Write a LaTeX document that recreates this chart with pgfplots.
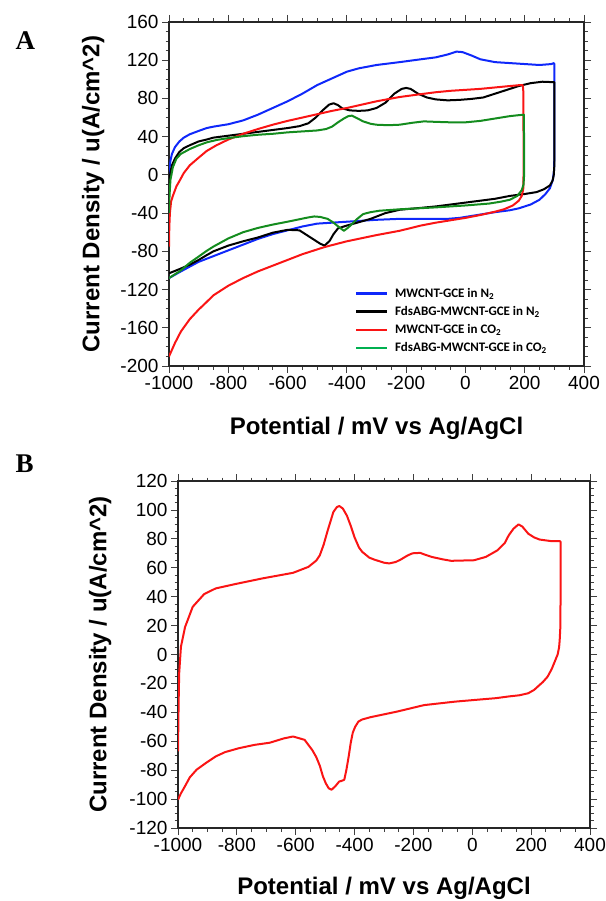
\documentclass[border=0pt]{standalone}
\usepackage{fontspec}
\setmainfont{Liberation Sans}
\newfontfamily\serif{Liberation Serif}
\newfontfamily\carlito{Carlito}
\usepackage{pgfplots}
\pgfplotsset{compat=1.18}

\definecolor{cvblue}{RGB}{15,40,250}
\definecolor{cvred}{RGB}{250,20,20}
\definecolor{cvgreen}{RGB}{20,140,30}
\definecolor{lggreen}{RGB}{0,176,80}

\pgfplotsset{
  cvax/.style={
    scale only axis,
    xmin=-1000, xmax=400, xtick distance=200,
    minor x tick num=3, minor y tick num=3,
    tick align=outside,
    major tick length=7pt, minor tick length=3.5pt,
    axis line style={black!85, line width=1.1pt},
    every tick/.style={black!75, line width=0.8pt},
    tick label style={font=\fontsize{19}{19}\selectfont},
    label style={font=\bfseries\fontsize{24}{24}\selectfont},
    /pgf/number format/assume math mode=true,
    /pgf/number format/1000 sep={},
    every axis plot/.append style={line width=2pt, mark=none, line join=round},
    legend image code/.code={\draw[line width=2.8pt, ##1] (0pt,0pt) -- (31pt,0pt); \path (36pt,0pt);},
  }
}

\begin{document}
\begin{tikzpicture}
\useasboundingbox (0pt,0pt) rectangle (605pt,-901pt);

\node[font=\serif\bfseries\fontsize{27}{27}\selectfont, anchor=base west] at (12pt,-50pt) {A};
\node[font=\serif\bfseries\fontsize{27}{27}\selectfont, anchor=base west] at (12pt,-472pt) {B};

% panel A
\begin{axis}[cvax,
  at={(169pt,-366pt)}, anchor=south west,
  width=415pt, height=344pt,
  ymin=-200, ymax=160, ytick distance=40,
  xlabel={Potential / mV vs Ag/AgCl},
  ylabel={Current Density / u(A/cm\^{}2)},
  xlabel style={at={(axis description cs:0.5,-0.18)}, anchor=center},
  ylabel style={at={(axis description cs:-0.183,0.5)}, anchor=center},
  legend style={at={(0.447,0.232)}, anchor=north west, draw=none, fill=none,
    font=\carlito\bfseries\fontsize{13}{13}\selectfont, row sep=3.5pt,
    inner sep=0pt},
  legend cell align=left,
]
% MWCNT-GCE in N2
\addplot[cvblue, forget plot] coordinates {
(-1000,-5) (-998,8) (-995,15) (-990,22) (-980,29) (-965,35) (-950,39) (-930,42.5)
(-900,46) (-873,49) (-850,50.5) (-800,53) (-750,57) (-700,63) (-650,70) (-600,77)
(-550,85) (-500,94) (-450,101) (-400,108) (-360,111.5) (-300,115) (-222,118)
(-150,121) (-100,123) (-60,126) (-30,129) (-10,128.5) (20,125) (50,121) (100,118)
(150,117) (200,116) (250,115) (290,116) (298,117) (300,116) (300,60) (300,20)
(299,5) (295,-5) (285,-14) (270,-20) (250,-26) (220,-31) (180,-35) (150,-37)
(100,-39) (60,-41) (20,-43) (-20,-45) (-60,-46) (-100,-46) (-150,-46) (-222,-46)
(-300,-47) (-400,-49) (-450,-50) (-500,-51) (-550,-54) (-600,-58) (-650,-62)
(-700,-67) (-750,-73) (-800,-79) (-850,-85) (-900,-91) (-930,-96) (-960,-101)
(-1000,-108)};
% FdsABG-MWCNT-GCE in N2
\addplot[black, forget plot] coordinates {
(-1000,-20) (-998,-5) (-995,3) (-990,10) (-980,17) (-965,24) (-950,28) (-930,31)
(-900,35) (-873,37) (-850,39) (-800,41) (-750,43) (-700,45) (-650,47) (-600,49)
(-560,51) (-530,54) (-505,60) (-480,68) (-460,73.5) (-445,75) (-430,73) (-415,69.5)
(-390,67.5) (-360,67) (-330,67.5) (-300,70) (-270,75.5) (-240,85) (-215,90)
(-200,91) (-185,90) (-160,85) (-130,81) (-100,79) (-60,78) (-20,78.5) (20,79.5)
(60,81) (100,85) (140,89) (180,93) (220,96) (260,97.5) (300,97) (300,50) (300,10)
(298,0) (294,-6) (285,-11) (265,-15) (240,-18) (200,-20) (150,-22) (100,-25)
(50,-27) (0,-29) (-50,-31) (-100,-33) (-150,-34.5) (-222,-36.5) (-270,-40)
(-320,-46) (-365,-50) (-400,-53) (-430,-56) (-445,-62) (-458,-69) (-475,-74)
(-490,-72) (-515,-67) (-540,-62) (-560,-58) (-600,-57.5) (-650,-60.5) (-700,-65.5)
(-750,-69.5) (-800,-74) (-850,-80) (-873,-84) (-900,-89) (-930,-94) (-960,-98)
(-1000,-103)};
% MWCNT-GCE in CO2
\addplot[cvred, forget plot] coordinates {
(-1000,-75) (-999,-55) (-997,-40) (-993,-28) (-987,-22) (-975,-12) (-964,-6)
(-950,2) (-930,10) (-900,18) (-873,25) (-840,31) (-800,37) (-750,43) (-700,48)
(-650,52.5) (-600,56.5) (-550,60) (-500,63.5) (-450,67) (-400,70) (-350,73.5)
(-300,77) (-222,81.5) (-150,84.5) (-100,86.5) (-50,88) (0,89) (50,90) (100,91.5)
(150,93) (185,94) (193,94) (195,90) (196,40) (196,0) (195,-15) (190,-22) (180,-27)
(160,-32) (130,-36) (100,-38.5) (50,-42) (0,-45) (-50,-47.5) (-100,-50) (-150,-53)
(-222,-58.5) (-300,-63) (-400,-69.5) (-475,-75.5) (-550,-83) (-600,-89) (-650,-95)
(-700,-101) (-750,-108) (-800,-116) (-850,-126) (-873,-133) (-900,-141)
(-930,-151) (-960,-164) (-980,-176) (-1000,-190)};
% FdsABG-MWCNT-GCE in CO2
\addplot[cvgreen, forget plot] coordinates {
(-1000,-40) (-998,-20) (-995,-5) (-990,3) (-987,8) (-975,17) (-960,22) (-930,27)
(-900,31) (-873,34) (-840,36.5) (-800,38.5) (-750,40.5) (-700,42) (-650,43)
(-600,44.5) (-550,45.5) (-500,46.5) (-470,48) (-450,50.5) (-430,55) (-410,59)
(-395,61.5) (-383,62) (-370,60) (-345,56) (-320,53.5) (-300,52.5) (-260,52)
(-222,52.5) (-180,54.5) (-140,56) (-100,55.5) (-50,55) (0,55) (50,56.5) (100,59)
(150,61.5) (180,62.5) (197,63) (198,30) (198,0) (196,-10) (190,-16) (175,-22)
(150,-26) (120,-28) (80,-30) (0,-32) (-100,-34) (-222,-36) (-290,-37.5) (-320,-39)
(-345,-41) (-365,-46) (-378,-50) (-395,-55) (-410,-58.5) (-425,-55) (-445,-50)
(-465,-46) (-490,-44) (-510,-43.5) (-530,-44.5) (-600,-49) (-650,-52) (-700,-55.5)
(-750,-60) (-800,-66.5) (-850,-75) (-873,-79.5) (-900,-85.5) (-930,-92) (-960,-100)
(-1000,-108)};
\addlegendimage{cvblue}
\addlegendentry{MWCNT-GCE in N\textsubscript{2}}
\addlegendimage{black}
\addlegendentry{FdsABG-MWCNT-GCE in N\textsubscript{2}}
\addlegendimage{cvred}
\addlegendentry{MWCNT-GCE in CO\textsubscript{2}}
\addlegendimage{lggreen}
\addlegendentry{FdsABG-MWCNT-GCE in CO\textsubscript{2}}
\end{axis}

% panel B
\begin{axis}[cvax,
  at={(178pt,-828pt)}, anchor=south west,
  width=412pt, height=347pt,
  ymin=-120, ymax=120, ytick distance=20,
  xlabel={Potential / mV vs Ag/AgCl},
  ylabel={Current Density / u(A/cm\^{}2)},
  xlabel style={at={(axis description cs:0.5,-0.173)}, anchor=center},
  ylabel style={at={(axis description cs:-0.189,0.5)}, anchor=center},
]
\addplot[cvred] coordinates {
(-1000,-67) (-998,-35) (-996,-13) (-990,5.4) (-976,19) (-950,33) (-911,41.8)
(-872,45.7) (-806,48.7) (-714,52.6) (-609,56.5) (-557,60.6) (-530,65) (-518,68.7)
(-505,76) (-491,86) (-472,98.6) (-460,102) (-452,102.7) (-440,101) (-426,96)
(-413,89) (-400,81) (-385,74) (-374,71) (-350,67) (-334,65.7) (-300,63.5)
(-282,63) (-260,64) (-243,65.7) (-220,68.5) (-203,70) (-177,70.3) (-160,69)
(-138,67.5) (-100,65.8) (-72,64.8) (6,65.2) (46,67.5) (85,72) (110,77) (124,82.5)
(140,87) (157,90) (170,88.5) (190,83.6) (210,81) (229,79.5) (269,78.4) (297,78.4)
(300,78) (300,40) (299,18) (297,10) (295,5) (290,0) (282,-4) (270,-10) (256,-15.3)
(240,-19) (229,-21) (210,-24.5) (190,-26.8) (160,-28.2) (124,-29) (80,-30.2)
(33,-31) (-59,-32.6) (-164,-35) (-256,-39.5) (-347,-43.4) (-375,-45) (-387,-46.4)
(-398,-50) (-406,-54) (-413,-61) (-420,-70.5) (-428,-80) (-435,-86.6) (-445,-87.5)
(-452,-87.8) (-465,-91) (-478,-93.5) (-488,-92.5) (-498,-89) (-508,-84) (-518,-77)
(-530,-71) (-544,-66) (-570,-59) (-609,-56.7) (-640,-58) (-688,-61) (-740,-62.5)
(-793,-64.8) (-840,-67.5) (-872,-70.5) (-905,-75) (-937,-79.7) (-960,-85)
(-976,-91) (-990,-96) (-1000,-100.4)};
\end{axis}
\end{tikzpicture}
\end{document}
